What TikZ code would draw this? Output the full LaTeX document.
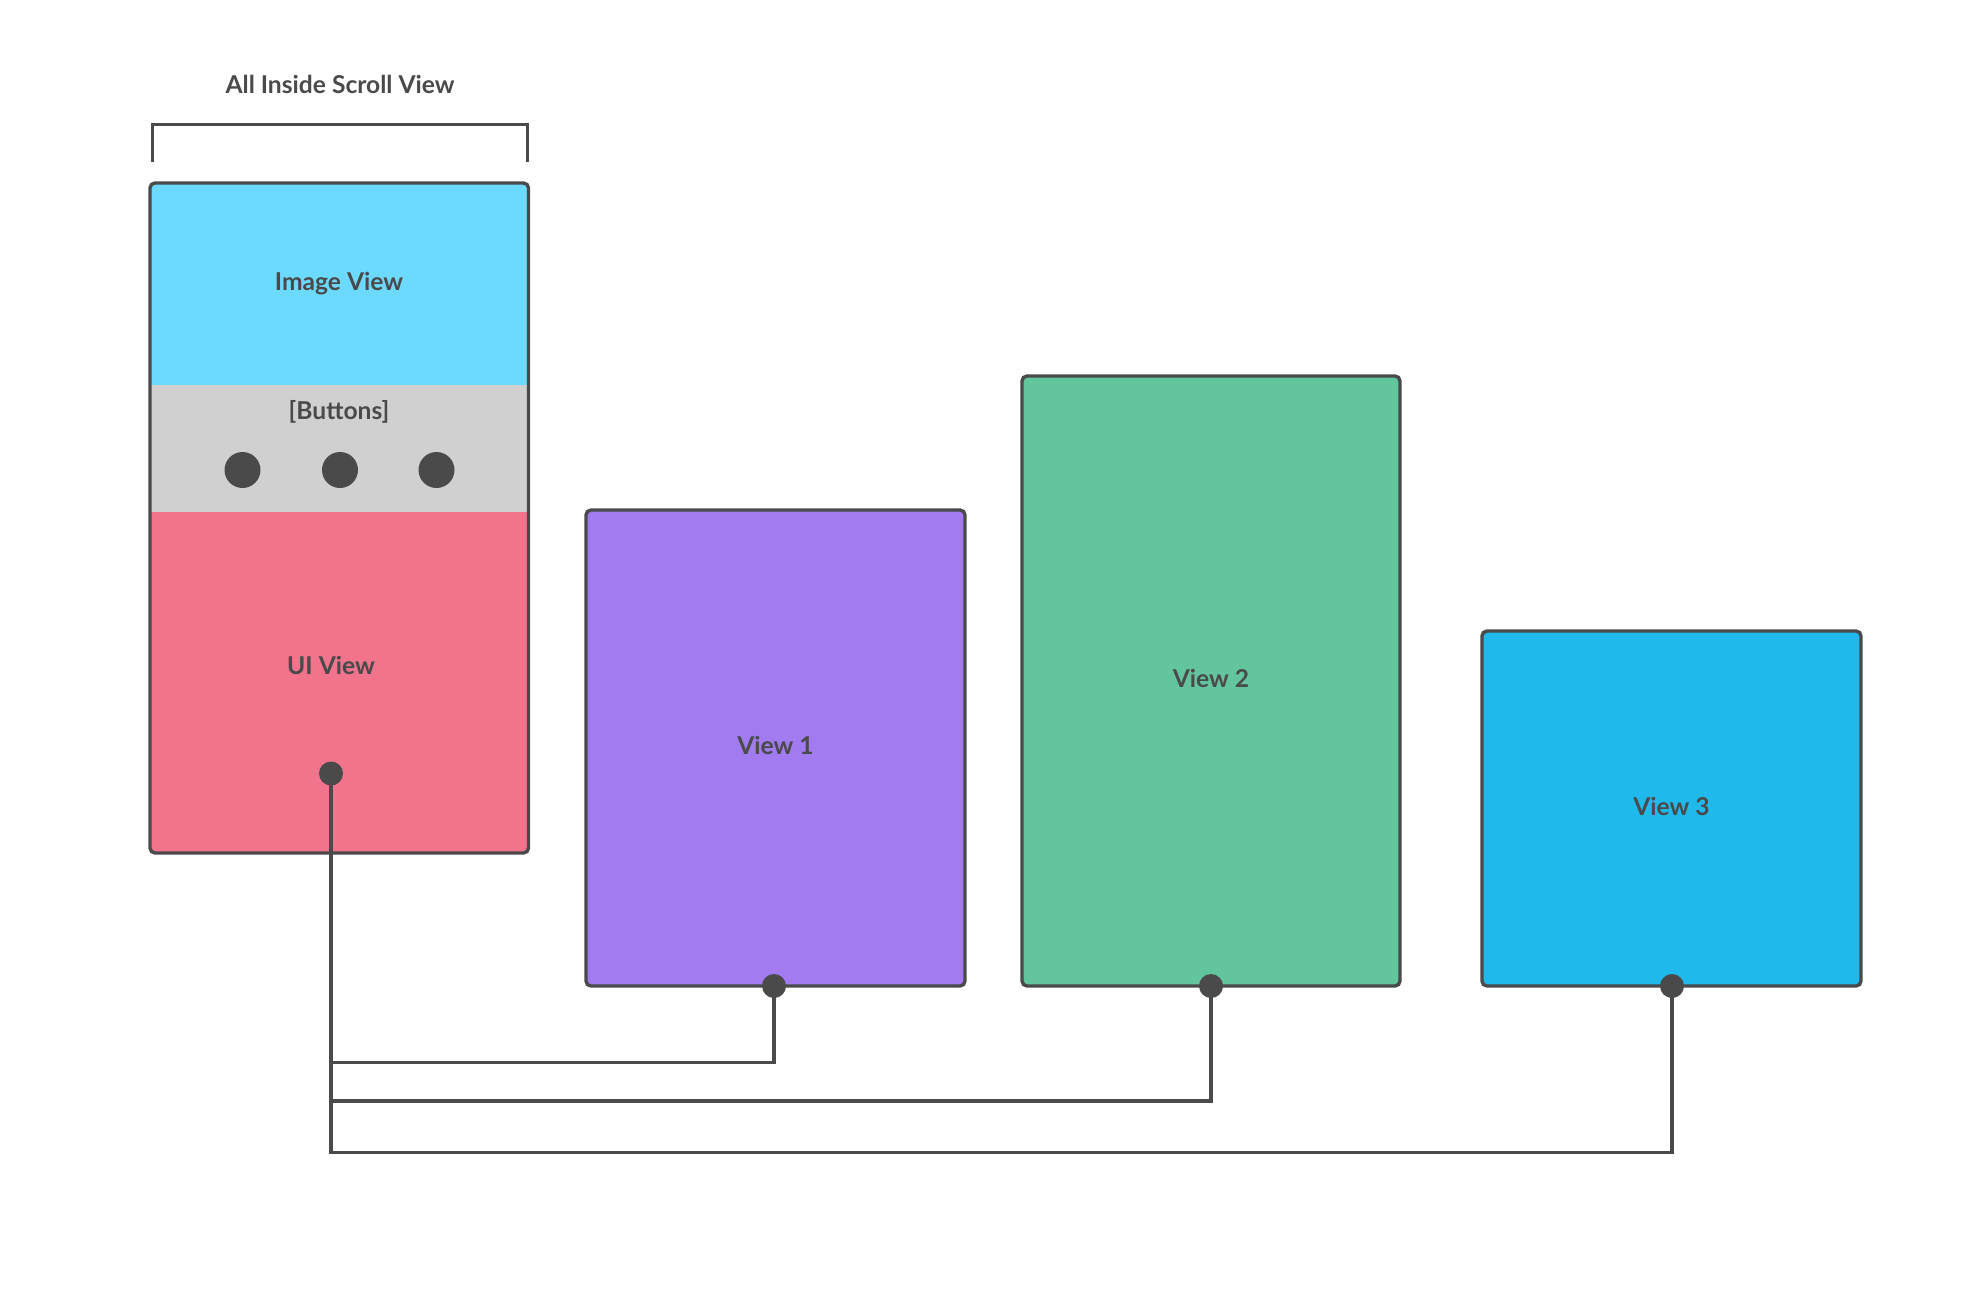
\documentclass[tikz,border=0pt]{standalone}
\usepackage{fontspec}
\setmainfont{Lato}
\definecolor{ink}{HTML}{4A4A4A}
\definecolor{imgblue}{HTML}{6CD9FF}
\definecolor{btngray}{HTML}{D0D0D0}
\definecolor{uipink}{HTML}{F2738C}
\definecolor{vpurple}{HTML}{A17BEF}
\definecolor{vgreen}{HTML}{63C59D}
\definecolor{vblue}{HTML}{1FB9EB}
\tikzset{
  lbl/.style={text=ink, font=\fontsize{24.6}{29}\selectfont\bfseries, inner sep=0pt},
  viewbox/.style={draw=ink, line width=3.4pt, rounded corners=5pt, inner sep=0pt},
  wire/.style={draw=ink, line width=3.4pt},
  dotmark/.style={circle, fill=ink, inner sep=0pt, minimum size=24pt},
  btndot/.style={circle, fill=ink, inner sep=0pt, minimum size=36pt},
}
\begin{document}
\begin{tikzpicture}[x=1pt,y=-1pt]
\useasboundingbox[fill=white] (0,0) rectangle (1964,1297);
% title and bracket
\node[lbl] (title) at (340,84) {All Inside Scroll View};
\coordinate (brl) at (152.5,162.5);
\coordinate (brr) at (527.5,162.5);
\draw[wire] (brl) -- ++(0,-38) -| (brr);
% main scroll box
\begin{scope}
\clip[rounded corners=5pt] (150,183) rectangle (528.5,853);
\fill[imgblue] (150,183) rectangle (528.5,385);
\fill[btngray] (150,385) rectangle (528.5,512);
\fill[uipink] (150,512) rectangle (528.5,853);
\end{scope}
\node[viewbox, minimum width=378.5pt, minimum height=670pt] (scroll) at (339.25,518) {};
\node[lbl] (imgview) at (339,284) {Image View};
\node[lbl] (buttons) at (339,412) {[Buttons]};
\node[btndot] (b1) at (242.5,470) {};
\node[btndot] (b2) at (340,470) {};
\node[btndot] (b3) at (436.5,470) {};
\node[lbl] (uiview) at (331,665) {UI View};
% views
\node[viewbox, fill=vpurple, minimum width=379pt, minimum height=476pt] (v1) at (775.5,748) {};
\node[lbl] (v1l) at (v1.center) [yshift=2.5pt] {View 1};
\node[viewbox, fill=vgreen, minimum width=378pt, minimum height=610pt] (v2) at (1211,681) {};
\node[lbl] (v2l) at (v2.center) [yshift=2.5pt] {View 2};
\node[viewbox, fill=vblue, minimum width=379pt, minimum height=355pt] (v3) at (1671.5,808.5) {};
\node[lbl] (v3l) at (v3.center) [yshift=2.5pt] {View 3};
% connector dots
\coordinate (src) at (331,773.5);
\coordinate (d1) at (774,986);
\coordinate (d2) at (1211,986);
\coordinate (d3) at (1672,986);
\coordinate (j1) at (331,1062.5);
\coordinate (j2) at (331,1101);
\coordinate (j3) at (331,1152.5);
\draw[wire] (src) -- (j3) -| (d3);
\draw[wire] (j1) -| (d1);
\draw[wire] (j2) -| (d2);
\node[dotmark] (ds) at (src) {};
\node[dotmark] (dd1) at (d1) {};
\node[dotmark] (dd2) at (d2) {};
\node[dotmark] (dd3) at (d3) {};
\end{tikzpicture}
\end{document}
